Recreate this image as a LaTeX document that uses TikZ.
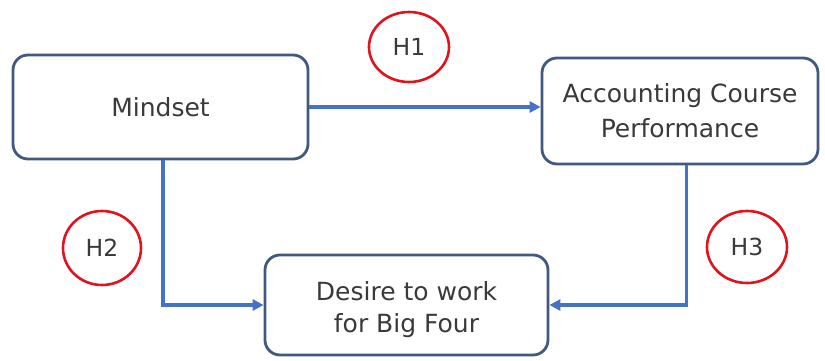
\documentclass[tikz,border=0pt]{standalone}
\usepackage{fontspec}
\setmainfont{DejaVu Sans}
\usetikzlibrary{shapes.geometric,arrows.meta}
\definecolor{boxline}{HTML}{42597F}
\definecolor{conn}{HTML}{4472C4}
\definecolor{hred}{HTML}{E0141E}
\definecolor{txt}{HTML}{3A3A3A}
\tikzset{
  box/.style={draw=boxline, line width=2.8pt, rounded corners=15pt, fill=white,
    align=center, text=txt, font=\fontsize{25}{35}\selectfont, inner sep=0pt},
  hyp/.style={draw=hred, line width=2.6pt, ellipse, inner sep=0pt, text=txt,
    font=\fontsize{23.5}{27}\selectfont},
  conn/.style={draw=conn, line width=3.4pt, -{Triangle[length=11pt,width=11pt]}}
}
\begin{document}
\begin{tikzpicture}[x=1pt,y=1pt]
\useasboundingbox (0,0) rectangle (825,360);
\fill[white] (0,0) rectangle (825,360);
\node[box, minimum width=295pt, minimum height=104pt] (mind) at (160.5,253) {Mindset};
\node[box, minimum width=276pt, minimum height=106pt] (acp) at (680,249) {Accounting Course\\Performance};
\node[box, minimum width=283pt, minimum height=100pt] (des) at (406.5,55) {\raisebox{-11pt}[0pt][0pt]{\begin{tabular}{@{}c@{}}Desire to work\\[-3pt]for Big Four\end{tabular}}};
\node[hyp, minimum width=80pt, minimum height=70pt] (h1) at (409,313) {H1};
\node[hyp, minimum width=78pt, minimum height=74pt] (h2) at (102,112) {H2};
\node[hyp, minimum width=80pt, minimum height=72pt] (h3) at (747,113) {H3};
\draw[conn] (mind.east) -- (mind.east -| acp.west);
\draw[conn] ([xshift=2.5pt]mind.south) |- (des.west);
\draw[conn] ([xshift=6.5pt]acp.south) |- (des.east);
\end{tikzpicture}
\end{document}
